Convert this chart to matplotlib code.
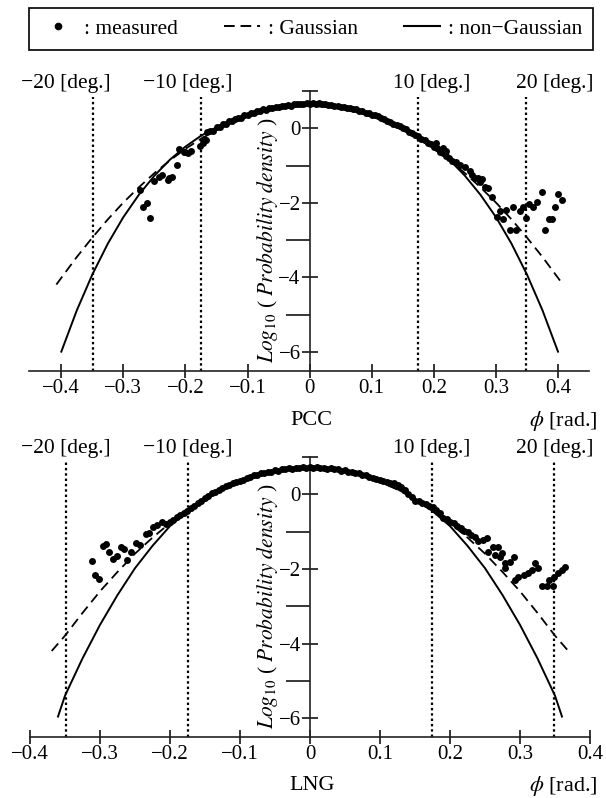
import numpy as np
import matplotlib
matplotlib.use("Agg")
import matplotlib.pyplot as plt
import matplotlib.transforms as mtransforms
from matplotlib.lines import Line2D

plt.rcParams['font.family'] = ['Liberation Serif', 'DejaVu Serif']
plt.rcParams['mathtext.fontset'] = 'stix'

# ---- PCC (upper panel) ----
pcc_phi = [
    -0.165, -0.160, -0.155, -0.150, -0.145, -0.140, -0.135, -0.130, -0.125, -0.120,
    -0.115, -0.110, -0.105, -0.100, -0.095, -0.090, -0.085, -0.080, -0.075, -0.070,
    -0.065, -0.060, -0.055, -0.050, -0.045, -0.040, -0.035, -0.030, -0.025, -0.020,
    -0.015, -0.010, -0.005, 0.000, 0.005, 0.010, 0.015, 0.020, 0.025, 0.030,
    0.035, 0.040, 0.045, 0.050, 0.055, 0.060, 0.065, 0.070, 0.075, 0.080,
    0.085, 0.090, 0.095, 0.100, 0.105, 0.110, 0.115, 0.120, 0.125, 0.130,
    0.135, 0.140, 0.145, 0.150, 0.155, 0.160, 0.165, 0.170, 0.175, 0.180,
    0.185, 0.190, 0.195, 0.200, 0.205, 0.210, 0.215, 0.220, 0.225, 0.230, 0.235,
    # scattered tails
    -0.170, -0.1666, -0.172, -0.177, -0.191, -0.196, -0.2016, -0.211, -0.214, -0.2215,
    -0.2285, -0.2376, -0.243, -0.250, -0.273, -0.262, -0.268, -0.2565, -0.200, -0.226,
    0.204, 0.215, 0.2204, 0.242, 0.250, 0.258, 0.2615, 0.266, 0.271, 0.274,
    0.277, 0.282, 0.2876, 0.293, 0.301, 0.306, 0.312, 0.317, 0.3226, 0.328,
    0.333, 0.339, 0.343, 0.348, 0.354, 0.359, 0.366, 0.374, 0.379, 0.3855,
    0.390, 0.395, 0.400, 0.406,
]
pcc_logp = [
    -0.10, -0.06, -0.07, 0.03, 0.03, 0.11, 0.12, 0.19, 0.19, 0.26,
    0.27, 0.29, 0.36, 0.35, 0.41, 0.42, 0.47, 0.46, 0.51, 0.50,
    0.55, 0.55, 0.58, 0.57, 0.61, 0.60, 0.63, 0.61, 0.65, 0.64,
    0.66, 0.64, 0.67, 0.66, 0.68, 0.65, 0.67, 0.64, 0.65, 0.62,
    0.63, 0.60, 0.61, 0.58, 0.58, 0.55, 0.55, 0.51, 0.51, 0.46,
    0.46, 0.42, 0.41, 0.36, 0.35, 0.32, 0.27, 0.25, 0.20, 0.18,
    0.12, 0.10, 0.06, 0.00, -0.03, -0.09, -0.12, -0.19, -0.21, -0.29,
    -0.31, -0.40, -0.42, -0.51, -0.54, -0.63, -0.66, -0.75, -0.79, -0.88, -0.91,
    -0.28, -0.31, -0.40, -0.48, -0.60, -0.67, -0.63, -0.565, -0.99, -1.30,
    -1.39, -1.24, -1.30, -1.42, -1.66, -2.00, -2.11, -2.40, -0.64, -1.33,
    -0.39, -0.54, -0.60, -0.99, -1.05, -1.14, -1.25, -1.34, -1.34, -1.43,
    -1.37, -1.57, -1.61, -1.84, -2.38, -2.22, -2.42, -2.20, -2.72, -2.11,
    -2.72, -2.22, -2.12, -2.40, -2.02, -2.11, -1.97, -1.70, -2.72, -2.42,
    -2.42, -2.11, -1.75, -1.93,
]
pcc_gauss_phi = [-0.408, -0.4, -0.375, -0.35, -0.325, -0.3, -0.275, -0.25, -0.225, -0.2,
                 -0.175, -0.15, -0.125, -0.1, -0.075, -0.05, -0.025, 0.0, 0.025, 0.05,
                 0.075, 0.1, 0.125, 0.15, 0.175, 0.2, 0.225, 0.25, 0.275, 0.3,
                 0.325, 0.35, 0.375, 0.4, 0.408]
pcc_gauss = [-4.19, -4.01, -3.45, -2.93, -2.44, -1.99, -1.58, -1.20, -0.86, -0.55,
             -0.28, -0.05, 0.15, 0.31, 0.44, 0.53, 0.58, 0.60, 0.58, 0.53,
             0.44, 0.31, 0.15, -0.05, -0.28, -0.55, -0.86, -1.20, -1.58, -1.99,
             -2.44, -2.93, -3.45, -4.01, -4.19]
pcc_ngauss_phi = [-0.4, -0.375, -0.35, -0.325, -0.3, -0.275, -0.25, -0.225, -0.2,
                  -0.175, -0.15, -0.125, -0.1, -0.075, -0.05, -0.025, 0.0, 0.025, 0.05,
                  0.075, 0.1, 0.125, 0.15, 0.175, 0.2, 0.225, 0.25, 0.275, 0.3,
                  0.325, 0.35, 0.375, 0.4]
pcc_ngauss = [-5.99, -4.88, -3.92, -3.09, -2.38, -1.78, -1.27, -0.84, -0.49,
              -0.20, 0.03, 0.22, 0.36, 0.47, 0.54, 0.59, 0.60, 0.59, 0.54,
              0.47, 0.36, 0.22, 0.03, -0.20, -0.49, -0.84, -1.27, -1.78, -2.38,
              -3.09, -3.92, -4.88, -5.99]

# ---- LNG (lower panel) ----
lng_phi = [
    -0.205, -0.200, -0.195, -0.190, -0.185, -0.180, -0.175, -0.170, -0.165, -0.160,
    -0.155, -0.150, -0.145, -0.140, -0.135, -0.130, -0.125, -0.120, -0.115, -0.110,
    -0.105, -0.100, -0.095, -0.090, -0.085, -0.080, -0.075, -0.070, -0.065, -0.060,
    -0.055, -0.050, -0.045, -0.040, -0.035, -0.030, -0.025, -0.020, -0.015, -0.010,
    -0.005, 0.000, 0.005, 0.010, 0.015, 0.020, 0.025, 0.030, 0.035, 0.040,
    0.045, 0.050, 0.055, 0.060, 0.065, 0.070, 0.075, 0.080, 0.085, 0.090,
    0.095, 0.100, 0.105, 0.110, 0.115, 0.120, 0.125, 0.130, 0.135, 0.140,
    0.145, 0.150, 0.155, 0.160, 0.165, 0.170, 0.175, 0.180, 0.185, 0.190,
    0.195, 0.200, 0.205, 0.210, 0.215, 0.220, 0.225, 0.230, 0.235, 0.240,
    # scattered tails
    -0.212, -0.219, -0.224, -0.2295, -0.234, -0.243, -0.2486, -0.255, -0.261, -0.266,
    -0.2705, -0.276, -0.281, -0.2867, -0.291, -0.295, -0.301, -0.307, -0.312,
    0.2476, 0.2533, 0.2548, 0.2619, 0.2643, 0.269, 0.2738, 0.271, 0.278, 0.279,
    0.2857, 0.2914, 0.2929, 0.2976, 0.305, 0.312, 0.3167, 0.321, 0.326, 0.331,
    0.338, 0.342, 0.3476, 0.349, 0.3548, 0.3595, 0.3643,
]
lng_logp = [
    -0.80, -0.74, -0.70, -0.61, -0.56, -0.49, -0.45, -0.36, -0.32, -0.23,
    -0.18, -0.10, -0.05, 0.03, 0.07, 0.13, 0.16, 0.22, 0.25, 0.30,
    0.32, 0.37, 0.39, 0.45, 0.46, 0.51, 0.52, 0.56, 0.57, 0.61,
    0.61, 0.65, 0.64, 0.68, 0.67, 0.70, 0.69, 0.72, 0.70, 0.73,
    0.71, 0.73, 0.71, 0.74, 0.71, 0.72, 0.69, 0.71, 0.67, 0.68,
    0.64, 0.65, 0.61, 0.61, 0.57, 0.56, 0.52, 0.51, 0.46, 0.45,
    0.40, 0.38, 0.35, 0.34, 0.30, 0.30, 0.26, 0.19, 0.11, 0.01,
    -0.07, -0.17, -0.19, -0.24, -0.25, -0.31, -0.33, -0.43, -0.50, -0.63,
    -0.66, -0.74, -0.78, -0.86, -0.89, -0.97, -1.00, -1.09, -1.13, -1.26,
    -0.73, -0.82, -0.87, -1.03, -1.05, -1.36, -1.30, -1.54, -1.76, -1.47,
    -1.40, -1.65, -1.74, -1.54, -1.33, -1.39, -2.27, -2.15, -1.79,
    -1.23, -1.18, -1.54, -1.40, -1.63, -1.40, -1.58, -1.67, -1.98, -1.85,
    -1.81, -1.67, -2.30, -2.21, -2.16, -2.12, -2.03, -1.85, -1.98, -2.46,
    -2.46, -2.30, -2.46, -2.21, -2.12, -2.03, -1.96,
]
lng_gauss_phi = [-0.369, -0.35, -0.325, -0.3, -0.275, -0.25, -0.225, -0.2, -0.175, -0.15,
                 -0.125, -0.1, -0.075, -0.05, -0.025, 0.0, 0.025, 0.05, 0.075, 0.1,
                 0.125, 0.15, 0.175, 0.2, 0.225, 0.25, 0.275, 0.3, 0.325, 0.35, 0.369]
lng_gauss = [-4.20, -3.79, -3.18, -2.60, -2.08, -1.59, -1.16, -0.77, -0.42, -0.13,
             0.13, 0.33, 0.49, 0.61, 0.68, 0.70, 0.68, 0.61, 0.49, 0.33,
             0.13, -0.13, -0.42, -0.77, -1.16, -1.59, -2.08, -2.60, -3.18, -3.79, -4.20]
lng_ngauss_phi = [-0.36, -0.35, -0.325, -0.3, -0.275, -0.25, -0.225, -0.2, -0.175, -0.15,
                  -0.125, -0.1, -0.075, -0.05, -0.025, 0.0, 0.025, 0.05, 0.075, 0.1,
                  0.125, 0.15, 0.175, 0.2, 0.225, 0.25, 0.275, 0.3, 0.325, 0.35, 0.36]
lng_ngauss = [-5.96, -5.40, -4.40, -3.50, -2.70, -1.98, -1.38, -0.85, -0.45, -0.12,
              0.14, 0.35, 0.51, 0.63, 0.70, 0.72, 0.70, 0.63, 0.51, 0.35,
              0.14, -0.12, -0.45, -0.85, -1.38, -1.98, -2.70, -3.50, -4.40, -5.40, -5.96]

deg_marks = [-20, -10, 10, 20]
deg_labels = ['\u221220 [deg.]', '\u221210 [deg.]', '10 [deg.]', '20 [deg.]']
x_ticks = [-0.4, -0.3, -0.2, -0.1, 0.0, 0.1, 0.2, 0.3, 0.4]
x_ticklabels = ['\u22120.4', '\u22120.3', '\u22120.2', '\u22120.1', '0', '0.1', '0.2', '0.3', '0.4']
y_ticks = [-6, -4, -2, 0, 1]
y_ticklabels = ['\u22126', '\u22124', '\u22122', '0', '']
y_minor = [-5, -3, -1]

fig = plt.figure(figsize=(6.06, 7.98), dpi=100)
ax1 = fig.add_axes([0.0479, 0.5355, 0.9241, 0.3504])
ax2 = fig.add_axes([0.0495, 0.0768, 0.9241, 0.3504])


def draw_panel(ax, phi, logp, g_phi, g, ng_phi, ng, xlim, vtop):
    deg_rad = np.deg2rad(deg_marks)
    ax.vlines(deg_rad, -6.5, vtop, colors='k', linestyles=(0, (1.1, 1.3)), lw=1.6, zorder=1)
    ax.plot(g_phi, g, color='k', lw=1.3, dashes=(5.5, 3.2), zorder=2)
    ax.plot(ng_phi, ng, color='k', lw=1.4, zorder=2)
    ax.plot(phi, logp, 'o', color='k', ms=5.0, mew=0, zorder=3, clip_on=False)

    ax.set_xlim(*xlim)
    ax.set_ylim(-6.5, 1.0)
    for s in ['top', 'right']:
        ax.spines[s].set_visible(False)
    ax.spines['left'].set_position(('data', 0))
    ax.spines['left'].set_linewidth(1.2)
    ax.spines['bottom'].set_linewidth(1.2)
    ax.spines['left'].set_color('#222222')
    ax.spines['bottom'].set_color('#222222')

    ax.set_xticks(x_ticks)
    ax.set_xticklabels(x_ticklabels)
    ax.set_yticks(y_ticks)
    ax.set_yticklabels(y_ticklabels)
    ax.set_yticks(y_minor, minor=True)
    ax.tick_params(axis='x', direction='inout', length=9.5, width=1.1, labelsize=15, pad=1)
    ax.tick_params(axis='y', which='major', direction='inout', length=12, width=1.1,
                   labelsize=15, pad=0.5)
    ax.tick_params(axis='y', which='minor', direction='out', length=17, width=1.1)

    ax.text(0.425, 0.467, r'$Log_{\mathit{10}}$ ( $Probability\ density$ )',
            transform=ax.transAxes, rotation=90, ha='center', va='center', fontsize=15.5)


draw_panel(ax1, pcc_phi, pcc_logp, pcc_gauss_phi, pcc_gauss, pcc_ngauss_phi, pcc_ngauss,
           (-0.452, 0.45), 0.85)
draw_panel(ax2, lng_phi, lng_logp, lng_gauss_phi, lng_gauss, lng_ngauss_phi, lng_ngauss,
           (-0.4, 0.4), 0.9)

# degree labels are centred on the lower panel's lines in both panels
for ax, yfrac in [(ax1, 1.027), (ax2, 1.029)]:
    tr = mtransforms.blended_transform_factory(ax2.transData, ax.transAxes)
    for d, lab in zip(deg_marks, deg_labels):
        ax.text(np.deg2rad(d), yfrac, lab, transform=tr, ha='center', va='center',
                fontsize=15.5, clip_on=False)

fig.text(0.514, 0.473, 'PCC', ha='center', va='center', fontsize=16)
fig.text(0.987, 0.473, r'$\phi$ [rad.]', ha='right', va='center', fontsize=16)
fig.text(0.515, 0.016, 'LNG', ha='center', va='center', fontsize=16)
fig.text(0.986, 0.015, r'$\phi$ [rad.]', ha='right', va='center', fontsize=16)

handles = [
    Line2D([], [], marker='o', ls='none', color='k', ms=5.5, mew=0),
    Line2D([], [], color='k', lw=1.4, dashes=(5.5, 3.0)),
    Line2D([], [], color='k', lw=1.5),
]
labels = [': measured', ': Gaussian', ': non\u2212Gaussian']
leg = fig.legend(handles, labels, loc='center',
                 bbox_to_anchor=(29 / 606, 1 - 50 / 798, 564 / 606, 42 / 798),
                 mode='expand', ncol=3,
                 frameon=True, fancybox=False, edgecolor='k', framealpha=1,
                 fontsize=15.5, handlelength=1.7, handletextpad=0.35, columnspacing=1.0,
                 borderpad=0.5, borderaxespad=0, numpoints=1)
leg.get_frame().set_linewidth(1.2)

fig.savefig('out.png', dpi=100)
